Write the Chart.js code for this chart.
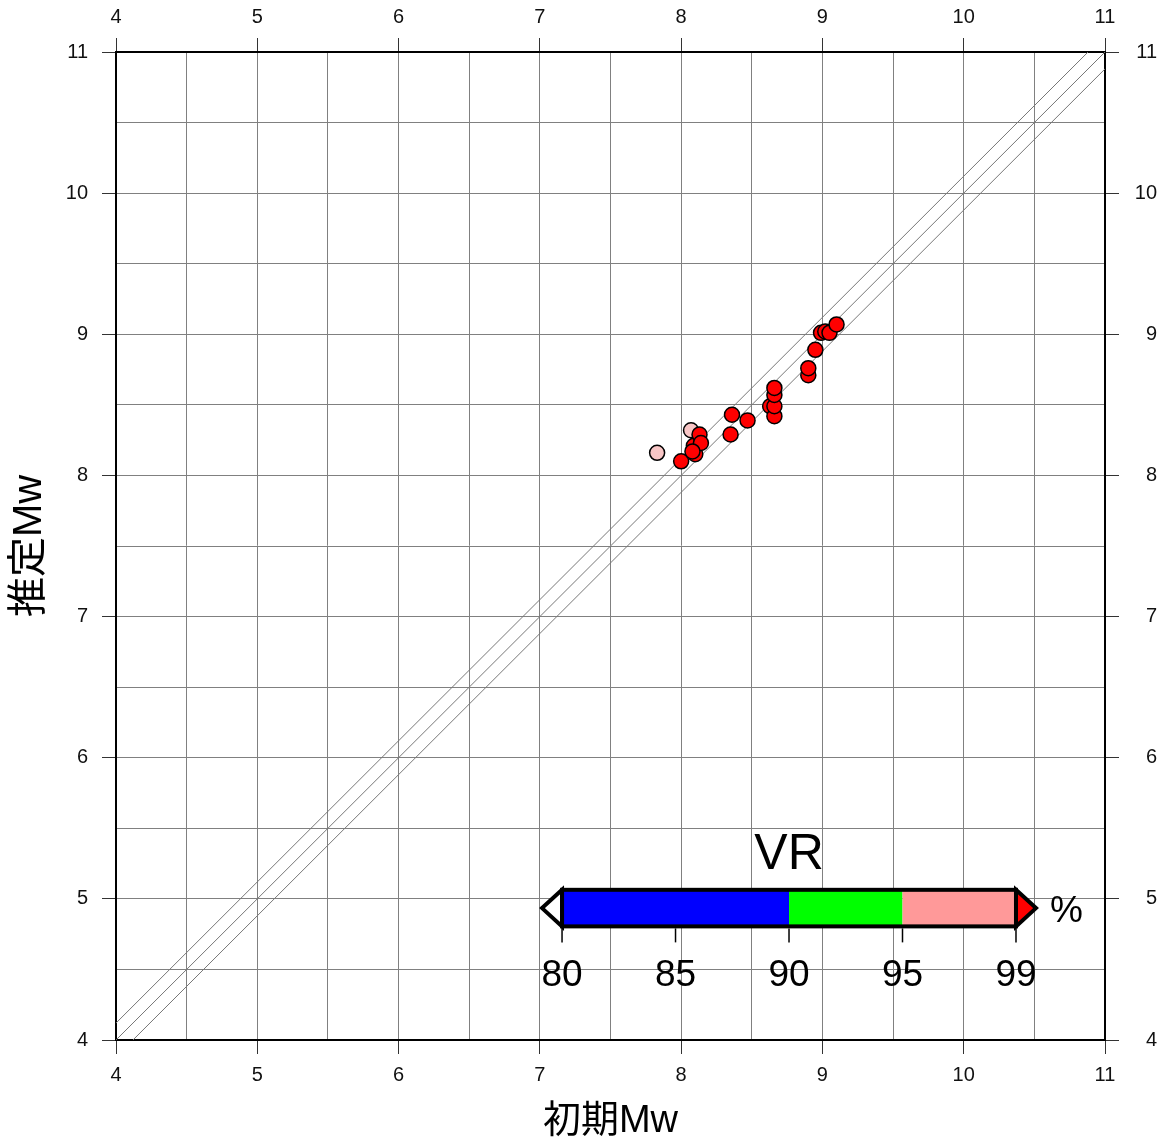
<!DOCTYPE html>
<html>
<head>
<meta charset="utf-8">
<script src="https://cdn.jsdelivr.net/npm/chart.js@4"></script>
<style>
  html, body { margin: 0; padding: 0; background: #fff; overflow: hidden; }
  #wrap { width: 1157px; height: 1145px; position: relative; }
</style>
</head>
<body>
<div id="wrap"><canvas id="mwChart"></canvas></div>
<script>
// axis range (Mw)
const axisMin = 4;
const axisMax = 11;
// 1:1 line and the two offset lines
const lineOffsets = [-0.12, 0, 0.12];

// events: initial Mw vs estimated Mw, with VR (%)
const initialMw   = [7.83, 8.07, 8.00, 8.10, 8.09, 8.13, 8.14, 8.08, 8.35, 8.36, 8.47, 8.63, 8.66, 8.66, 8.66, 8.66, 8.90, 8.90, 8.95, 8.99, 9.02, 9.05, 9.10];
const estimatedMw = [8.16, 8.32, 8.10, 8.15, 8.21, 8.29, 8.23, 8.17, 8.29, 8.43, 8.39, 8.49, 8.42, 8.49, 8.57, 8.62, 8.71, 8.76, 8.89, 9.01, 9.02, 9.01, 9.07];
const vrValues    = [97.0, 97.5, 99.5, 99.6, 99.4, 99.3, 99.5, 99.2, 99.4, 99.6, 99.5, 99.3, 99.4, 99.5, 99.6, 99.5, 99.4, 99.3, 99.5, 99.6, 99.4, 99.5, 99.6];

// VR colour bar
const vrStops      = [80, 90, 95, 100];
const vrColors     = ['#0000ff', '#00ff00', '#ff9999'];
const vrUnderColor = '#ffffff';
const vrOverColor  = '#ff0000';
const vrTickValues = [80, 85, 90, 95, 100];
const vrTickLabels = ['80', '85', '90', '95', '99'];
const pointColorsByBin = ['#0000ff', '#00ff00', '#f8c6c6'];

const latin = "'Liberation Sans', Arial, sans-serif";
const cjk = "'Liberation Sans', 'Noto Sans CJK JP', sans-serif";

function vrColor(v) {
    if (v >= 99) return vrOverColor;
    if (v < vrStops[0]) return vrUnderColor;
    for (let i = 0; i < vrColors.length; i++) {
        if (v < vrStops[i + 1]) return pointColorsByBin[i];
    }
    return vrOverColor;
}

const isInt = v => Math.abs(v - Math.round(v)) < 1e-6;

const refLines = lineOffsets.map(d => {
    const x0 = d >= 0 ? axisMin : axisMin - d;
    const x1 = d >= 0 ? axisMax - d : axisMax;
    return {
        type: 'line', order: 2,
        data: [{ x: x0, y: x0 + d }, { x: x1, y: x1 + d }],
        borderColor: '#777', borderWidth: 1, pointRadius: 0, fill: false
    };
});

// colour bar, placed in chart-area fractions
const cbBox = { left: 0.451, right: 0.910, top: 0.848, bottom: 0.885 };

const colorBarPlugin = {
    id: 'vrColorBar',
    afterDatasetsDraw(chart) {
        const { ctx, chartArea: a } = chart;
        const w = a.right - a.left, h = a.bottom - a.top;
        const L = a.left + cbBox.left * w, R = a.left + cbBox.right * w;
        const T = a.top + cbBox.top * h, B = a.top + cbBox.bottom * h;
        const M = (T + B) / 2;
        const px = v => L + (v - vrStops[0]) / (vrStops[vrStops.length - 1] - vrStops[0]) * (R - L);
        const arrow = 20;

        ctx.save();
        vrColors.forEach((c, i) => {
            ctx.fillStyle = c;
            ctx.fillRect(px(vrStops[i]), T, px(vrStops[i + 1]) - px(vrStops[i]), B - T);
        });
        ctx.lineWidth = 4;
        ctx.strokeStyle = '#000';
        ctx.lineJoin = 'miter';
        // under / over triangles
        ctx.beginPath(); ctx.moveTo(L, T); ctx.lineTo(L - arrow, M); ctx.lineTo(L, B); ctx.closePath();
        ctx.fillStyle = vrUnderColor; ctx.fill(); ctx.stroke();
        ctx.beginPath(); ctx.moveTo(R, T); ctx.lineTo(R + arrow, M); ctx.lineTo(R, B); ctx.closePath();
        ctx.fillStyle = vrOverColor; ctx.fill(); ctx.stroke();
        ctx.strokeRect(L, T, R - L, B - T);

        // ticks + labels
        ctx.lineWidth = 1.5;
        ctx.fillStyle = '#000';
        ctx.font = `37px ${latin}`;
        ctx.textAlign = 'center';
        ctx.textBaseline = 'middle';
        vrTickValues.forEach((v, i) => {
            const x = px(v);
            ctx.beginPath(); ctx.moveTo(x, B + 2); ctx.lineTo(x, B + 16); ctx.stroke();
            ctx.fillText(vrTickLabels[i], x, B + 49);
        });
        ctx.font = `50px ${latin}`;
        ctx.textBaseline = 'alphabetic';
        ctx.fillText('VR', (L + R) / 2, T - 21);
        ctx.font = `37px ${latin}`;
        ctx.textAlign = 'left';
        ctx.fillText('%', R + 34, B - 4);
        ctx.restore();
    }
};

const tickFont = { family: latin, size: 20 };

new Chart(document.getElementById('mwChart'), {
    type: 'scatter',
    data: {
        datasets: [
            {
                order: 1,
                data: initialMw.map((x, i) => ({ x, y: estimatedMw[i] })),
                backgroundColor: vrValues.map(vrColor),
                borderColor: '#000', borderWidth: 1.5, pointRadius: 7.5
            },
            ...refLines
        ]
    },
    options: {
        responsive: true, maintainAspectRatio: false, animation: false,
        layout: { padding: 0 },
        plugins: { legend: { display: false }, tooltip: { enabled: false } },
        scales: {
            x: {
                type: 'linear', position: 'bottom', min: axisMin, max: axisMax,
                afterFit: s => { s.height = 105; },
                ticks: { stepSize: 0.5, autoSkip: false, maxRotation: 0, padding: 9, color: '#111', font: tickFont,
                         callback: v => isInt(v) ? v : '' },
                grid: { color: '#808080', lineWidth: 1, tickLength: 14,
                        tickColor: c => isInt(c.tick.value) ? '#333' : 'rgba(0,0,0,0)' },
                border: { color: '#000', width: 2 },
                title: { display: true, text: '初期Mw', color: '#000', font: { family: cjk, size: 38, lineHeight: 1.1 },
                         padding: { top: 0, bottom: 3 } }
            },
            x2: {
                type: 'linear', axis: 'x', position: 'top', min: axisMin, max: axisMax,
                afterFit: s => { s.height = 52; },
                ticks: { stepSize: 1, maxRotation: 0, padding: 9, color: '#111', font: tickFont },
                grid: { drawOnChartArea: false, tickLength: 14, tickColor: '#333' },
                border: { color: '#000', width: 2 }
            },
            y: {
                type: 'linear', position: 'left', min: axisMin, max: axisMax,
                afterFit: s => { s.width = 116; },
                ticks: { stepSize: 0.5, autoSkip: false, padding: 14, color: '#111', font: tickFont,
                         callback: v => isInt(v) ? v : '' },
                grid: { color: '#808080', lineWidth: 1, tickLength: 14,
                        tickColor: c => isInt(c.tick.value) ? '#333' : 'rgba(0,0,0,0)' },
                border: { color: '#000', width: 2 },
                title: { display: true, text: '推定Mw', color: '#000', font: { family: cjk, size: 40, lineHeight: 1.1 },
                         padding: { top: 8, bottom: 0 } }
            },
            y2: {
                type: 'linear', axis: 'y', position: 'right', min: axisMin, max: axisMax,
                afterFit: s => { s.width = 52; },
                ticks: { stepSize: 1, padding: 14, crossAlign: 'far', color: '#111', font: tickFont },
                grid: { drawOnChartArea: false, tickLength: 14, tickColor: '#333' },
                border: { color: '#000', width: 2 }
            }
        }
    },
    plugins: [colorBarPlugin]
});
</script>
</body>
</html>
